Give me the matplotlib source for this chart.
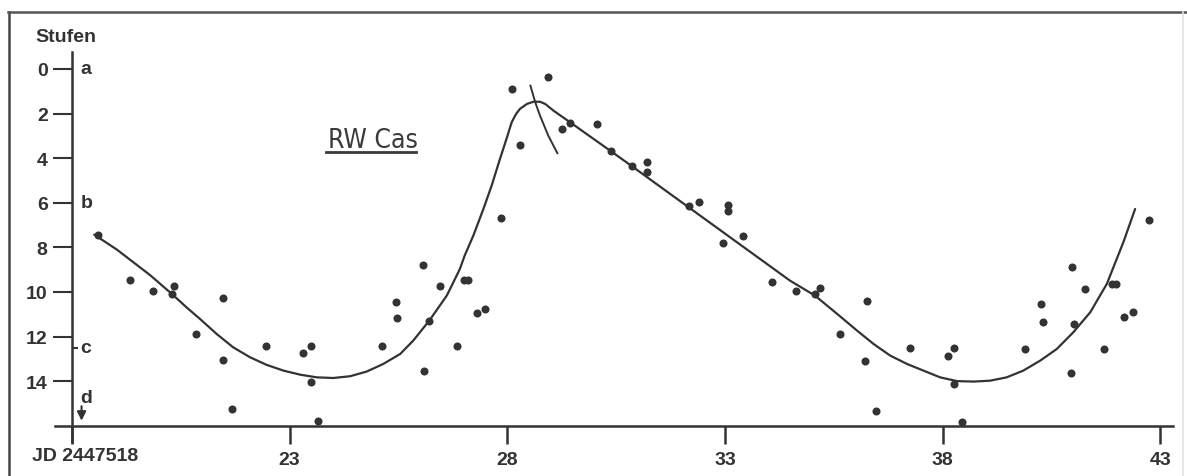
# light curve RW Cas, Stufenschaetzungen (Argelander)

import matplotlib
matplotlib.use('Agg')
import matplotlib.pyplot as plt
from matplotlib.lines import Line2D

# JD offsets (2447500 + x) and estimated Stufen
obs_jd = [18.60, 19.33, 19.85, 20.30, 20.34, 20.86, 21.46, 21.46, 21.68, 22.46,
          23.31, 23.49, 23.49, 23.64, 25.13, 25.44, 25.47, 26.07, 26.09, 26.21,
          26.45, 26.84, 27.00, 27.10, 27.30, 27.49, 27.86, 28.10, 28.28, 28.93,
          29.25, 29.44, 30.07, 30.38, 30.86, 31.20, 31.20, 32.18, 32.40, 32.95,
          33.08, 33.08, 33.42, 34.09, 34.63, 35.07, 35.18, 35.64, 36.22, 36.26,
          36.47, 37.25, 38.13, 38.25, 38.26, 38.45, 39.89, 40.26, 40.30, 40.94,
          40.96, 41.02, 41.28, 41.71, 41.88, 41.98, 42.17, 42.37, 42.73]
obs_stufen = [7.44, 9.45, 9.96, 10.09, 9.75, 11.88, 10.28, 13.05, 15.26, 12.42,
              12.72, 12.44, 14.04, 15.78, 12.42, 10.46, 11.18, 8.79, 13.56, 11.31,
              9.75, 12.41, 9.45, 9.45, 10.96, 10.76, 6.70, 0.90, 3.39, 0.35,
              2.69, 2.42, 2.47, 3.69, 4.36, 4.19, 4.63, 6.13, 5.95, 7.82,
              6.10, 6.35, 7.47, 9.54, 9.97, 10.09, 9.84, 11.88, 13.11, 10.39,
              15.32, 12.53, 12.89, 12.51, 14.13, 15.84, 12.58, 10.54, 11.33, 13.63,
              8.86, 11.43, 9.87, 12.58, 9.64, 9.64, 11.14, 10.88, 6.77]

# hand drawn mean curve, traced
curve_jd = [18.51, 19.03, 19.41, 19.79, 20.30, 20.63, 20.94, 21.32, 21.70, 22.09,
            22.47, 22.86, 23.24, 23.62, 24.00, 24.39, 24.77, 25.15, 25.54, 25.84,
            26.21, 26.45, 26.61, 26.76, 26.91, 27.02, 27.22, 27.45, 27.64, 27.83,
            27.98, 28.10, 28.20, 28.29, 28.45, 28.60, 28.75, 28.87, 29.06, 29.44,
            30.38, 30.86, 34.49, 35.07, 35.64, 36.03, 36.41, 36.79, 37.18, 37.56,
            37.94, 38.33, 38.71, 39.09, 39.47, 39.85, 40.24, 40.62, 41.00, 41.39,
            41.77, 42.15, 42.42]
curve_stufen = [7.43, 8.10, 8.67, 9.24, 10.10, 10.69, 11.21, 11.88, 12.48, 12.93,
                13.27, 13.53, 13.71, 13.83, 13.86, 13.78, 13.57, 13.23, 12.78, 12.18,
                11.28, 10.61, 10.16, 9.57, 8.97, 8.37, 7.47, 6.28, 5.23, 4.04,
                3.14, 2.39, 2.02, 1.79, 1.57, 1.47, 1.47, 1.57, 1.87, 2.39,
                3.69, 4.36, 9.49, 10.17, 11.09, 11.73, 12.33, 12.85, 13.23, 13.53,
                13.83, 14.00, 14.02, 13.98, 13.83, 13.53, 13.08, 12.56, 11.81, 10.91,
                9.64, 7.77, 6.28]

# second (alternative) maximum branch
arc_jd = [28.53, 28.64, 28.75, 28.94, 29.15]
arc_stufen = [0.75, 1.49, 2.09, 2.99, 3.78]

yticks = [0, 2, 4, 6, 8, 10, 12, 14]
xticks = [18, 23, 28, 33, 38, 43]
xticklabels = ['', '23', '28', '33', '38', '43']
comp_stars = ['a', 'b', 'c']
comp_stufen = [0, 6, 12.5]

ink = '#333333'
plt.rcParams['font.family'] = ['Liberation Sans', 'DejaVu Sans']

fig = plt.figure(figsize=(11.87, 4.77), dpi=100)
ax = fig.add_axes([55 / 1187, 1 - 443 / 477, 1118 / 1187, 390 / 477])
ax.set_xlim(17.61, 43.29)
ax.set_ylim(16.73, -0.76)

ax.plot(curve_jd, curve_stufen, color=ink, lw=1.6, solid_capstyle='round', solid_joinstyle='round')
ax.plot(arc_jd, arc_stufen, color=ink, lw=1.4)
ax.plot(obs_jd, obs_stufen, 'o', color=ink, ms=5.8, mew=0)

for s in ['top', 'right']:
    ax.spines[s].set_visible(False)
ax.spines['left'].set_position(('data', 18))
ax.spines['bottom'].set_position(('data', 16))
for s in ['left', 'bottom']:
    ax.spines[s].set_linewidth(1.8)
    ax.spines[s].set_color(ink)

ax.set_yticks(yticks)
ax.set_yticklabels([str(t) for t in yticks])
ax.set_xticks(xticks)
ax.set_xticklabels(xticklabels)
ax.tick_params(axis='y', direction='out', length=14, width=1.5, color=ink,
               pad=3.5, labelsize=14, labelcolor=ink)
ax.tick_params(axis='x', direction='out', length=13, width=1.8, color=ink,
               pad=5, labelsize=14, labelcolor=ink)
for lbl in ax.get_xticklabels() + ax.get_yticklabels():
    lbl.set_fontweight('bold')

# comparison stars a, b, c
ax.set_yticks(comp_stufen, minor=True)
ax.tick_params(axis='y', which='minor', direction='in', length=4.5, width=1.5, color=ink)
for lab, s in zip(comp_stars, comp_stufen):
    ax.text(18.19, s, lab, ha='left', va='center', fontsize=14, fontweight='bold', color=ink)
ax.text(18.33, 14.72, 'd', ha='center', va='center', fontsize=14, fontweight='bold', color=ink)
ax.annotate('', xy=(18.22, 15.9), xytext=(18.22, 15.0),
            arrowprops=dict(arrowstyle='-|>', color=ink, lw=1.5, mutation_scale=13))

ax.text(18.3, 16.95, 'JD 2447518', ha='center', va='top', fontsize=14,
        fontweight='bold', color=ink, clip_on=False)
fig.text(35 / 1187, 1 - 38 / 477, 'Stufen', ha='left', va='center', fontsize=14,
         fontweight='bold', color=ink)

# star name, underlined
ax.text(24.91, 3.5, 'RW Cas', ha='center', va='baseline', fontsize=19,
        family='DejaVu Sans', stretch='condensed', color='#3a3a3a')
ax.plot([24.87 - 1.03, 24.87 + 1.03], [3.72, 3.72], color='#3a3a3a', lw=2)

# frame of the scanned figure
fig.add_artist(Line2D([9 / 1187, 9 / 1187], [0, 1 - 13 / 477], color='#444444', lw=1.8))
fig.add_artist(Line2D([8 / 1187, 1], [1 - 13 / 477, 1 - 13 / 477], color='#555555', lw=1.8))
fig.add_artist(Line2D([1183 / 1187, 1183 / 1187], [0, 1 - 13 / 477], color='#e2e2e2', lw=1.2))

plt.savefig('out.png', dpi=100)
plt.close()
